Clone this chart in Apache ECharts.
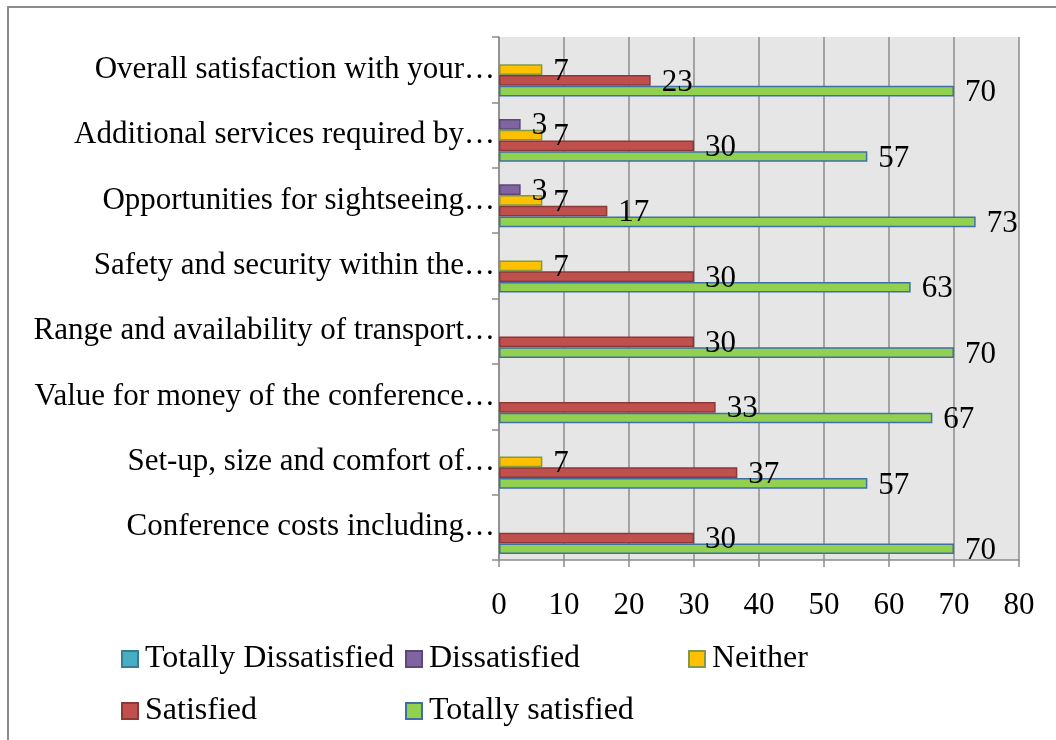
<!DOCTYPE html>
<html>
<head>
<meta charset="utf-8">
<script src="https://cdn.jsdelivr.net/npm/echarts@6/dist/echarts.min.js"></script>
<style>
  html, body { margin: 0; padding: 0; background: #fff; }
  #chart { width: 1056px; height: 740px; }
</style>
</head>
<body>
<div id="chart"></div>
<script>
// categories, bottom to top
const categories = [
  "Conference costs including…",
  "Set-up, size and comfort of…",
  "Value for money of the conference…",
  "Range and availability of transport…",
  "Safety and security within the…",
  "Opportunities for sightseeing…",
  "Additional services required by…",
  "Overall satisfaction with your…"
];
const totallyDissatisfied = [0, 0, 0, 0, 0, 0, 0, 0];
const dissatisfied = [0, 0, 0, 0, 0, 3.33, 3.33, 0];
const neither = [0, 6.67, 0, 0, 6.67, 6.67, 6.67, 6.67];
const satisfied = [30, 36.67, 33.33, 30, 30, 16.67, 30, 23.33];
const totallySatisfied = [70, 56.67, 66.67, 70, 63.33, 73.33, 56.67, 70];
const xTicks = [0, 10, 20, 30, 40, 50, 60, 70, 80];

const font = "'Liberation Serif', 'Times New Roman', serif";
const fs = 31;

const labelOpt = {
  show: true,
  position: "right",
  distance: 11,
  offset: [0, 2],
  color: "#000",
  fontFamily: font,
  fontSize: fs,
  formatter: p => (p.value ? Math.round(p.value) : "")
};

function bar(name, data, color, border) {
  return {
    name: name,
    type: "bar",
    // empty cells (0) draw nothing, as in the source chart
    data: data.map(v => (v === 0 ? null : v)),
    barGap: "0%",
    barCategoryGap: "18%",
    itemStyle: { color: color, borderColor: border, borderWidth: 1.5 },
    label: labelOpt,
    emphasis: { disabled: true }
  };
}

function legendAt(name, left, top) {
  return {
    data: [name],
    left: left,
    top: top,
    padding: 0,
    icon: "rect",
    itemWidth: 16,
    itemHeight: 16,
    selectedMode: false,
    textStyle: { fontFamily: font, fontSize: 32, lineHeight: 34, color: "#000", padding: [0, 0, 0, 2] }
  };
}

const chart = echarts.init(document.getElementById("chart"));
chart.setOption({
  animation: false,
  backgroundColor: "#fff",
  graphic: [{
    type: "rect",
    shape: { x: 8, y: 7, width: 1200, height: 900 },
    style: { fill: "none", stroke: "#8c8c8c", lineWidth: 2 },
    silent: true
  }],
  grid: {
    left: 499, right: 37, top: 37, bottom: 180,
    show: true, backgroundColor: "#e6e6e6", borderWidth: 0
  },
  legend: [
    legendAt("Totally Dissatisfied", 121, 642),
    legendAt("Dissatisfied", 405, 642),
    legendAt("Neither", 688, 642),
    legendAt("Satisfied", 121, 694),
    legendAt("Totally satisfied", 405, 694)
  ],
  xAxis: {
    type: "value",
    min: 0, max: 80, interval: 10,
    axisLine: { show: true, lineStyle: { color: "#8c8c8c", width: 1.5 } },
    axisTick: { show: true, length: 7, lineStyle: { color: "#8c8c8c", width: 1.5 } },
    splitLine: { show: true, lineStyle: { color: "#8c8c8c", width: 1.5 } },
    axisLabel: {
      margin: 30, color: "#000", fontFamily: font, fontSize: fs,
      formatter: v => (xTicks.includes(v) ? String(v) : "")
    }
  },
  yAxis: {
    type: "category",
    data: categories,
    axisLine: { show: true, lineStyle: { color: "#8c8c8c", width: 1.5 } },
    axisTick: { show: true, length: 7, lineStyle: { color: "#8c8c8c", width: 1.5 } },
    axisLabel: { margin: 4, color: "#000", fontFamily: font, fontSize: fs, padding: [3, 0, 0, 0] }
  },
  series: [
    bar("Totally Dissatisfied", totallyDissatisfied, "#4bacc6", "#357d91"),
    bar("Dissatisfied", dissatisfied, "#8064a2", "#5c4776"),
    bar("Neither", neither, "#ffc000", "#7f9a48"),
    bar("Satisfied", satisfied, "#c0504d", "#8c3836"),
    bar("Totally satisfied", totallySatisfied, "#92d050", "#3f6fa6")
  ]
});
</script>
</body>
</html>
